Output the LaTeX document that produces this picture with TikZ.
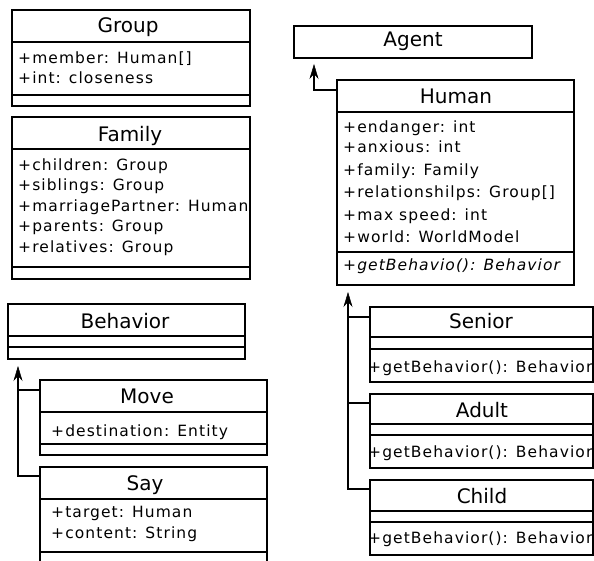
\documentclass[tikz,border=0pt]{standalone}
\usepackage{fontspec}
\setmainfont{DejaVu Sans}
\newfontfamily\attrfont[LetterSpace=7]{DejaVu Sans}
\usetikzlibrary{arrows.meta,calc}
\begin{document}
\begin{tikzpicture}[x=1pt,y=-1pt,
  box/.style={draw, line width=2.3pt, inner sep=0pt, anchor=north west},
  div/.style={line width=2.3pt},
  ttl/.style={anchor=base, inner sep=0pt, font=\fontsize{20}{24}\selectfont},
  atr/.style={anchor=base west, inner sep=0pt, font=\attrfont\fontsize{15.5}{18}\selectfont},
  inh/.style={line width=2pt, -{Stealth[length=15pt,width=9pt,inset=5pt,line width=0.5pt]}},
  lnk/.style={line width=2pt}]
\newcommand\umlbox[5]{\node[box, minimum width={#4-#2}, minimum height={#5-#3}] (#1) at (#2,#3) {};}
\fill[white] (0,0) rectangle (594,561);
\useasboundingbox (0,0) rectangle (594,561);

% Group
\umlbox{group}{11}{9}{249}{105}
\draw[div] (11,42) -- (249,42);
\draw[div] (11,95) -- (249,95);
\node[ttl] (groupt) at (128,33) {Group};
\node[atr] (g1) at (18,64) {+member: Human[]};
\node[atr] (g2) at (18,84) {+int: closeness};

% Family
\umlbox{family}{11}{116}{249}{278}
\draw[div] (11,149) -- (249,149);
\draw[div] (11,267) -- (249,267);
\node[ttl] (familyt) at (130,142) {Family};
\node[atr] (f1) at (18,171) {+children: Group};
\node[atr] (f2) at (18,191) {+siblings: Group};
\node[atr] (f3) at (18,212) {+marriagePartner: Human};
\node[atr] (f4) at (18,232) {+parents: Group};
\node[atr] (f5) at (18,253) {+relatives: Group};

% Behavior
\umlbox{behavior}{7}{303}{244}{358}
\draw[div] (7,336) -- (244,336);
\draw[div] (7,347) -- (244,347);
\node[ttl] (behaviort) at (125,328) {Behavior};

% Move
\umlbox{move}{39}{379}{266}{454}
\draw[div] (39,412) -- (266,412);
\draw[div] (39,444) -- (266,444);
\node[ttl] (movet) at (147,403) {Move};
\node[atr] (m1) at (51,436) {+destination: Entity};

% Say
\umlbox{say}{39}{466}{266}{585}
\draw[div] (39,499) -- (266,499);
\draw[div] (39,552) -- (266,552);
\node[ttl] (sayt) at (145,490) {Say};
\node[atr] (s1) at (51,517) {+target: Human};
\node[atr] (s2) at (51,538) {+content: String};

% Agent
\umlbox{agent}{293}{25}{531}{57}
\node[ttl] (agentt) at (413,47) {Agent};

% Human
\umlbox{human}{336}{79}{573}{284}
\draw[div] (336,112) -- (573,112);
\draw[div] (336,252) -- (573,252);
\node[ttl] (humant) at (456,104) {Human};
\node[atr] (h1) at (343,133) {+endanger: int};
\node[atr] (h2) at (343,153) {+anxious: int};
\node[atr] (h3) at (343,176) {+family: Family};
\node[atr] (h4) at (343,198) {+relationshilps: Group[]};
\node[atr] (h5) at (343,221) {+max speed: int};
\node[atr] (h6) at (343,243) {+world: WorldModel};
\node[atr, font=\attrfont\fontsize{15.5}{18}\selectfont\itshape] (h7) at (343,271) {+getBehavio(): Behavior};

% Senior
\umlbox{senior}{369}{306}{592}{381}
\draw[div] (369,337) -- (592,337);
\draw[div] (369,349) -- (592,349);
\node[ttl] (seniort) at (481,328) {Senior};
\node[atr] (se1) at (368,372) {+getBehavior(): Behavior};

% Adult
\umlbox{adult}{369}{393}{592}{467}
\draw[div] (369,424) -- (592,424);
\draw[div] (369,435) -- (592,435);
\node[ttl] (adultt) at (482,417) {Adult};
\node[atr] (a1) at (368,457) {+getBehavior(): Behavior};

% Child
\umlbox{child}{369}{479}{592}{554}
\draw[div] (369,511) -- (592,511);
\draw[div] (369,522) -- (592,522);
\node[ttl] (childt) at (482,503) {Child};
\node[atr] (c1) at (368,543) {+getBehavior(): Behavior};

% Inheritance connectors
\coordinate (agenttip) at (314,64);
\coordinate (humanport) at ($(human.north west)+(0,11)$);
\draw[inh] (humanport) -| (agenttip);

\coordinate (behtip) at (18,366);
\coordinate (sayport) at ($(say.north west)+(0,10)$);
\coordinate (moveport) at ($(move.north west)+(0,11)$);
\draw[inh] (sayport) -| (behtip);
\draw[lnk] (moveport) -- (moveport -| behtip);

\coordinate (humtip) at (348,292);
\coordinate (childport) at ($(child.north west)+(0,10)$);
\coordinate (seniorport) at ($(senior.north west)+(0,11)$);
\coordinate (adultport) at ($(adult.north west)+(0,10)$);
\draw[inh] (childport) -| (humtip);
\draw[lnk] (seniorport) -- (seniorport -| humtip);
\draw[lnk] (adultport) -- (adultport -| humtip);
\end{tikzpicture}
\end{document}
